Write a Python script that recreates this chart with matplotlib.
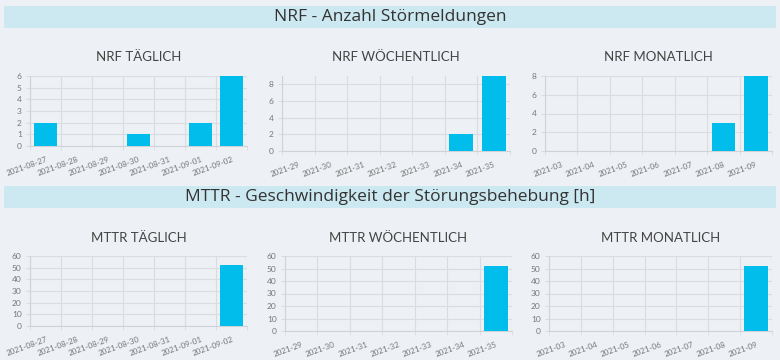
import numpy as np
import matplotlib
matplotlib.use('Agg')
import matplotlib.pyplot as plt
from matplotlib.patches import Rectangle

# data
days = ['2021-08-27', '2021-08-28', '2021-08-29', '2021-08-30', '2021-08-31', '2021-09-01', '2021-09-02']
weeks = ['2021-29', '2021-30', '2021-31', '2021-32', '2021-33', '2021-34', '2021-35']
months = ['2021-03', '2021-04', '2021-05', '2021-06', '2021-07', '2021-08', '2021-09']

nrf_daily = [2, 0, 0, 1, 0, 2, 6]
nrf_weekly = [0, 0, 0, 0, 0, 2, 9]
nrf_monthly = [0, 0, 0, 0, 0, 3, 8]

mttr_daily = [0, 0, 0, 0, 0, 0, 52]
mttr_weekly = [0, 0, 0, 0, 0, 0, 52]
mttr_monthly = [0, 0, 0, 0, 0, 0, 52]

BG = '#edf0f4'
BAND = '#cce8f0'
BAR = '#00bdeb'
GRID = '#d9dce1'
TXT = '#444444'
TICK = '#777777'

plt.rcParams['font.family'] = ['Lato', 'DejaVu Sans']

W, H = 780, 360
fig = plt.figure(figsize=(W / 100, H / 100), dpi=100)
fig.patch.set_facecolor(BG)


def box(x0, y0, x1, y1):
    return [x0 / W, 1 - y1 / H, (x1 - x0) / W, (y1 - y0) / H]


def band(y0, y1, text):
    fig.patches.append(Rectangle((4 / W, 1 - y1 / H), 772 / W, (y1 - y0) / H,
                                 transform=fig.transFigure, facecolor=BAND,
                                 edgecolor='none', zorder=0))
    fig.text(0.5, 1 - (y0 + y1) / 2 / H, text, ha='center', va='center',
             fontsize=12.5, color='#333333', family=['Open Sans', 'DejaVu Sans'])


def bar_chart(rect, labels, values, ymax, step, title, title_y):
    ax = fig.add_axes(box(*rect))
    ax.set_facecolor(BG)
    x = np.arange(len(labels))
    ax.bar(x, values, width=0.73, color=BAR, zorder=3)
    ax.set_xlim(-0.5, len(labels) - 0.5)
    ax.set_ylim(0, ymax)
    ax.set_yticks(np.arange(0, ymax + 0.01, step))
    ax.set_xticks(x)
    ax.set_xticklabels(labels, rotation=20, ha='right', rotation_mode='anchor')
    ax.set_xticks(np.arange(-0.5, len(labels)), minor=True)
    ax.tick_params(axis='x', which='major', length=0, pad=7, labelsize=5.8, colors=TICK)
    ax.tick_params(axis='x', which='minor', length=3, color=GRID)
    ax.tick_params(axis='y', length=3, color=GRID, labelsize=6, colors=TICK, pad=3)
    ax.grid(True, which='minor', axis='x', color=GRID, linewidth=0.8, zorder=0)
    ax.grid(True, which='major', axis='y', color=GRID, linewidth=0.8, zorder=0)
    for s in ['top', 'right']:
        ax.spines[s].set_visible(False)
    for s in ['left', 'bottom']:
        ax.spines[s].set_color('#cfd2d7')
        ax.spines[s].set_linewidth(0.8)
    cx = (rect[0] + rect[2]) / 2
    fig.text(cx / W, 1 - title_y / H, title, ha='center', va='center',
             fontsize=9.5, color=TXT)
    return ax


band(6, 28, 'NRF - Anzahl Störmeldungen')
band(186, 208, 'MTTR - Geschwindigkeit der Störungsbehebung [h]')

bar_chart((30, 76, 247, 146), days, nrf_daily, 6, 1, 'NRF TÄGLICH', 57)
bar_chart((282, 76, 510, 151), weeks, nrf_weekly, 9, 2, 'NRF WÖCHENTLICH', 57)
bar_chart((545, 76, 772, 151), months, nrf_monthly, 8, 2, 'NRF MONATLICH', 57)

bar_chart((30, 256, 247, 326), days, mttr_daily, 60, 10, 'MTTR TÄGLICH', 238)
bar_chart((285, 256, 512, 331), weeks, mttr_weekly, 60, 10, 'MTTR WÖCHENTLICH', 238)
bar_chart((549, 256, 772, 331), months, mttr_monthly, 60, 10, 'MTTR MONATLICH', 238)

fig.savefig('out.png', dpi=100, facecolor=BG)
